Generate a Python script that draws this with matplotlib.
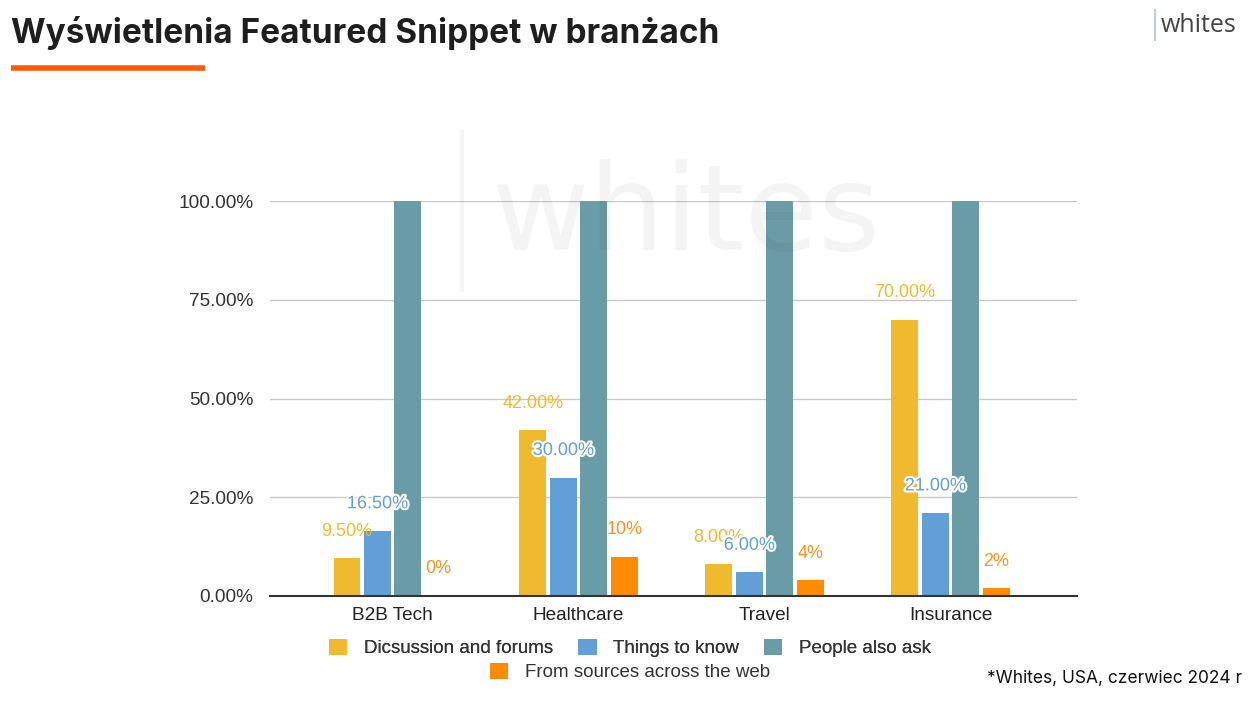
import numpy as np
import matplotlib.pyplot as plt
import matplotlib.patheffects as pe

# data
industries = ["B2B Tech", "Healthcare", "Travel", "Insurance"]
series_names = ["Dicsussion and forums", "Things to know", "People also ask",
                "From sources across the web"]
discussion = [9.5, 42.0, 8.0, 70.0]
things_to_know = [16.5, 30.0, 6.0, 21.0]
people_also_ask = [100.0, 100.0, 100.0, 100.0]
from_sources = [0.0, 10.0, 4.0, 2.0]
discussion_labels = ["9.50%", "42.00%", "8.00%", "70.00%"]
things_labels = ["16.50%", "30.00%", "6.00%", "21.00%"]
sources_labels = ["0%", "10%", "4%", "2%"]
y_ticks = [0, 25, 50, 75, 100]

colors = ["#F0BA2E", "#629FD6", "#6A9CA7", "#FF8C00"]
label_colors = ["#F0BA2E", "#629FD6", None, "#F7931E"]

W, H = 1258, 705
fig = plt.figure(figsize=(W / 100, H / 100), dpi=100)
fig.patch.set_facecolor("white")

ax = fig.add_axes([270 / W, 109 / H, 807 / W, 395 / H])
ax.set_facecolor("none")

x = np.arange(len(industries))
width = 0.145
step = 0.164
all_series = [discussion, things_to_know, people_also_ask, from_sources]
all_labels = [discussion_labels, things_labels, None, sources_labels]

for i, vals in enumerate(all_series):
    pos = x + (i - 1.5) * step
    ax.bar(pos, vals, width, color=colors[i], label=series_names[i], zorder=3)
    if all_labels[i] is None:
        continue
    for px, v, lab in zip(pos, vals, all_labels[i]):
        t = ax.annotate(lab, (px, v), xytext=(0, 19.5), textcoords="offset points",
                        ha="center", va="center", fontsize=13,
                        color=label_colors[i], family="Liberation Sans",
                        annotation_clip=False, zorder=5)
        if i == 1:
            t.set_path_effects([pe.withStroke(linewidth=3, foreground="white")])

ax.set_xlim(-0.66, 3.68)
ax.set_ylim(0, 100)
ax.set_yticks(y_ticks)
ax.set_yticklabels(["%.2f%%" % v for v in y_ticks], fontsize=13.7,
                   color="#333333", family="Liberation Sans")
ax.set_xticks(x)
ax.set_xticklabels(industries, fontsize=13.7, color="#222222", family="Liberation Sans")
ax.tick_params(length=0)
ax.tick_params(axis="y", pad=12)
ax.tick_params(axis="x", pad=8)
ax.grid(axis="y", color="#C8C8C8", lw=1, zorder=0)
for s in ["top", "right", "left"]:
    ax.spines[s].set_visible(False)
ax.spines["bottom"].set_color("#333333")
ax.spines["bottom"].set_linewidth(1.5)
ax.spines["bottom"].set_zorder(4)

# watermark, translucent so the bars show through
fig.text(492 / W, 1 - 250 / H, "whites", fontsize=86, color="black", alpha=0.045,
         family="DejaVu Sans", va="baseline", ha="left", zorder=10)
fig.add_artist(plt.Line2D([462 / W, 462 / W], [1 - 132 / H, 1 - 290 / H],
                          color="black", alpha=0.04, lw=3, zorder=10))

# legend in two centered rows
handles, labels = ax.get_legend_handles_labels()
leg_kw = dict(frameon=False, handlelength=1.0, handleheight=1.0, handletextpad=0.9,
              prop={"family": "Liberation Sans", "size": 13.5}, labelcolor="#333333")
leg1 = fig.legend(handles[:3], labels[:3], loc="center", ncol=3, columnspacing=1.3,
                  bbox_to_anchor=(630 / W, 1 - 648 / H), borderaxespad=0, **leg_kw)
fig.legend(handles[3:], labels[3:], loc="center", bbox_to_anchor=(630 / W, 1 - 672 / H),
           borderaxespad=0, **leg_kw)
fig.add_artist(leg1)

# title and decorations
fig.text(11 / W, 1 - 33 / H, "Wyświetlenia Featured Snippet w branżach", fontsize=24,
         fontweight="bold", family="Inter", color="#1E1E1E", va="center", ha="left")
fig.add_artist(plt.Line2D([11 / W, 205 / W], [1 - 68 / H, 1 - 68 / H],
                          color="#FF5A0A", lw=4, solid_capstyle="butt"))
fig.add_artist(plt.Line2D([1155 / W, 1155 / W], [1 - 10 / H, 1 - 40 / H],
                          color="#B8D0DC", lw=1.5))
fig.text(1161 / W, 1 - 25 / H, "whites", fontsize=18, family="Open Sans",
         color="#444444", va="center", ha="left")
fig.text(1242 / W, 1 - 678 / H, "*Whites, USA, czerwiec 2024 r", fontsize=12.5,
         family="Inter", color="#111111", va="center", ha="right")

fig.savefig("out.png", dpi=100)
